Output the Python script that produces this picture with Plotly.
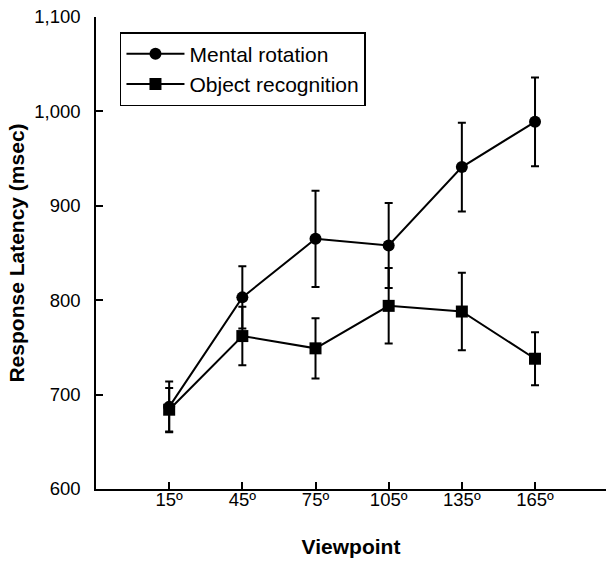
import plotly.graph_objects as go

categories = ["15º", "45º", "75º", "105º", "135º", "165º"]
positions = [1, 2, 3, 4, 5, 6]

mental_rotation = [687, 803, 865, 858, 941, 989]
mental_rotation_err = [27, 33, 51, 45, 47, 47]

object_recognition = [684, 762, 749, 794, 788, 738]
object_recognition_err = [23, 31, 32, 40, 41, 28]

y_ticks = [600, 700, 800, 900, 1000, 1100]
y_tick_labels = ["600", "700", "800", "900", "1,000", "1,100"]

FONT = "Liberation Sans, Arial, Helvetica, sans-serif"

fig = go.Figure()
fig.add_trace(go.Scatter(
    x=positions, y=mental_rotation, name="Mental rotation",
    mode="lines+markers",
    line=dict(color="black", width=2),
    marker=dict(symbol="circle", size=12, color="black"),
    error_y=dict(type="data", array=mental_rotation_err, visible=True,
                 color="black", thickness=2, width=4),
))
fig.add_trace(go.Scatter(
    x=positions, y=object_recognition, name="Object recognition",
    mode="lines+markers",
    line=dict(color="black", width=2),
    marker=dict(symbol="square", size=12, color="black"),
    error_y=dict(type="data", array=object_recognition_err, visible=True,
                 color="black", thickness=2, width=4),
))

fig.update_layout(
    width=606, height=563,
    margin=dict(l=96, r=0, t=17, b=74),
    paper_bgcolor="white", plot_bgcolor="white",
    font=dict(family=FONT, color="black", size=18),
    showlegend=True,
    legend=dict(
        x=0.047, y=0.968, xanchor="left", yanchor="top",
        bordercolor="black", borderwidth=1.5, bgcolor="white",
        itemwidth=58,
        font=dict(size=21, family=FONT, color="black"),
    ),
    xaxis=dict(
        range=[0, 6.97], tickmode="array", tickvals=positions, ticktext=categories,
        showline=True, linecolor="black", linewidth=1.5,
        ticks="inside", ticklen=7, tickwidth=1.5, tickcolor="black",
        showgrid=False, zeroline=False, automargin=False,
        ticklabelstandoff=-7, ticklabeloverflow="allow",
        tickfont=dict(size=18.5, family=FONT),
        title=dict(text="<b>Viewpoint</b>", font=dict(size=21, family=FONT), standoff=30),
    ),
    yaxis=dict(
        range=[600, 1100], tickmode="array", tickvals=y_ticks, ticktext=y_tick_labels,
        showline=True, linecolor="black", linewidth=1.5,
        ticks="inside", ticklen=7, tickwidth=1.5, tickcolor="black",
        showgrid=False, zeroline=False, automargin=False,
        ticklabelstandoff=10, ticklabeloverflow="allow",
        tickfont=dict(size=18.5, family=FONT),
        title=dict(text="<b>Response Latency (msec)</b>", font=dict(size=21, family=FONT), standoff=4),
    ),
)

# Remove the default page margin so the figure fills the 606x563 window exactly.
fig.write_html(
    "out.html",
    config={"displayModeBar": False},
    post_script="document.body.style.margin='0';",
)
